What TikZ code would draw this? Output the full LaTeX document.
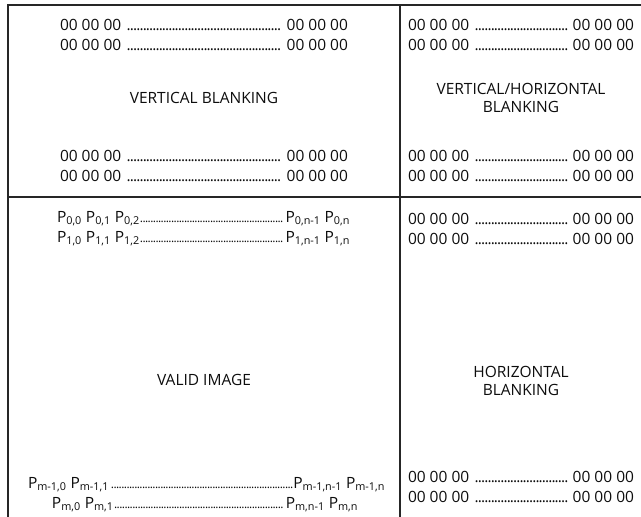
\documentclass[tikz,border=0pt]{standalone}
\usepackage{fontspec}
\setmainfont{Open Sans}
\newcommand{\tabfont}{\fontsize{15.5}{18}\selectfont}
\newcommand{\zdots}{\leaders\hbox to 3.2pt{\hss.\hss}\hfill}
\newcommand{\pdots}{\leaders\hbox to 2.6pt{\hss\fontsize{12}{12}\selectfont.\hss}\hfill}
\newcommand{\zrow}[1]{\hbox to #1{00 00 00 \zdots\ 00 00 00}}
\newcommand{\pp}[1]{P\textsubscript{#1}}

\begin{document}
\begin{tikzpicture}[x=1pt, y=-1pt, font=\tabfont, text=black!95]
\tikzstyle{row} = [anchor=base, inner sep=0pt]
\tikzstyle{lbl} = [align=center, inner sep=0pt]
\tikzstyle{rule} = [draw=black!85, line width=1.4pt]

\useasboundingbox (0,0) rectangle (641,517);

% grid
\coordinate (TL) at (8,5);
\coordinate (TR) at (641,5);
\coordinate (BL) at (8,517);
\coordinate (TM) at (400,5);
\coordinate (BM) at (400,517);
\coordinate (ML) at (8,197);
\coordinate (MR) at (641,197);
\draw[rule] (BL) -- (TL) -- (TR);
\draw[rule] (TM) -- (BM);
\draw[rule] (ML) -- (MR);

% vertical blanking
\node[row](vb1) at (204,30) {\zrow{288pt}};
\node[row](vb2) at (204,50) {\zrow{288pt}};
\node[row](vbl) at (204,103) {VERTICAL BLANKING};
\node[row](vb3) at (204,161) {\zrow{288pt}};
\node[row](vb4) at (204,181) {\zrow{288pt}};

% vertical/horizontal blanking
\node[row](vh1) at (521,30) {\zrow{226pt}};
\node[row](vh2) at (521,50) {\zrow{226pt}};
\node[lbl](vhl) at (521,98) {VERTICAL/HORIZONTAL\\BLANKING};
\node[row](vh3) at (521,161) {\zrow{226pt}};
\node[row](vh4) at (521,181) {\zrow{226pt}};

% valid image
\node[row](p0) at (203.5,222) {\hbox to 293pt{\pp{0,0} \pp{0,1} \pp{0,2}\pdots\pp{0,n-1} \pp{0,n}}};
\node[row](p1) at (203.5,242) {\hbox to 293pt{\pp{1,0} \pp{1,1} \pp{1,2}\pdots\pp{1,n-1} \pp{1,n}}};
\node[row](vil) at (204,385) {VALID IMAGE};
\node[row](pm1) at (206.5,488) {\hbox to 357pt{\pp{m-1,0} \pp{m-1,1}\pdots\pp{m-1,n-1} \pp{m-1,n}}};
\node[row](pm) at (205,508) {\hbox to 306pt{\pp{m,0} \pp{m,1}\pdots\pp{m,n-1} \pp{m,n}}};

% horizontal blanking
\node[row](hb1) at (521,224) {\zrow{226pt}};
\node[row](hb2) at (521,244) {\zrow{226pt}};
\node[lbl](hbl) at (521,381) {HORIZONTAL\\BLANKING};
\node[row](hb3) at (521,482) {\zrow{226pt}};
\node[row](hb4) at (521,502) {\zrow{226pt}};
\end{tikzpicture}
\end{document}
